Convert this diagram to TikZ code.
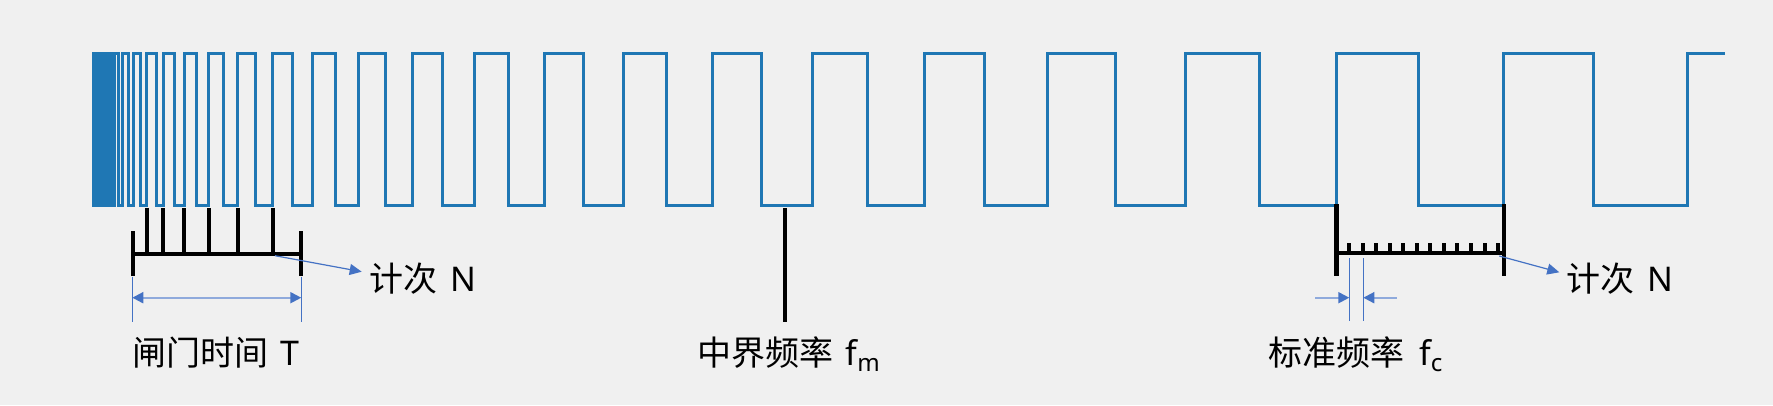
\documentclass[tikz,border=0pt]{standalone}
\usepackage{fontspec}
\setmainfont{Noto Sans CJK SC}
\newfontfamily\latf{Noto Sans}
\usetikzlibrary{arrows.meta}
\definecolor{bgc}{HTML}{F0F0F0}
\definecolor{wavec}{HTML}{1F77B4}
\definecolor{annc}{HTML}{4472C4}
\definecolor{annl}{RGB}{143,170,220}
\newcommand{\subtxt}[1]{\raisebox{-6.5pt}{\fontsize{24}{24}\selectfont #1}}
\begin{document}
\begin{tikzpicture}[x=1pt,y=-1pt,
  wave/.style={draw=wavec, line width=3pt},
  blk/.style={draw=black, line width=4.3pt},
  tickbar/.style={draw=black, line width=4pt},
  guide/.style={draw=annc, line width=1pt},
  dimline/.style={draw=annl, line width=2pt, -{Triangle[length=11pt,width=11pt,color=annc]}},
  dimboth/.style={draw=annl, line width=2pt, {Triangle[length=11pt,width=11pt,color=annc]}-{Triangle[length=11pt,width=11pt,color=annc]}},
  cntarrow/.style={draw=annc, line width=1.2pt, -{Triangle[length=12pt,width=11pt]}},
  lbl/.style={font=\fontsize{34}{40}\selectfont, inner sep=0pt, anchor=base west}]
\useasboundingbox (0,0) rectangle (1773,405);
\fill[bgc] (0,0) rectangle (1773,405);
% dense high-frequency block
\fill[wavec] (91.5,51.5) rectangle (113,206.5);
% chirped square wave
\draw[wave] (112,205) -| (114.3,53) -| (118.8,205) -| (122.7,53) -| (128.5,205)
 -| (133.3,53) -| (140,205) -| (146.7,53) -| (156.3,205) -| (163.3,53)
 -| (174.7,205) -| (184,53) -| (196.7,205) -| (208.7,53) -| (223.3,205)
 -| (237.7,53) -| (255,205) -| (272.7,53) -| (292,205) -| (312.3,53)
 -| (335.3,205) -| (358.7,53) -| (385.7,205) -| (412.7,53) -| (442.7,205)
 -| (474.5,53) -| (508.5,205) -| (544.1,53) -| (583.1,205) -| (623.4,53)
 -| (666.8,205) -| (712.3,53) -| (761.3,205) -| (812.1,53) -| (867.1,205)
 -| (924,53) -| (984.7,205) -| (1047.1,53) -| (1115.4,205) -| (1185,53)
 -| (1259.2,205) -| (1336.5,53) -| (1418.5,205) -| (1503.9,53) -| (1593.6,205)
 -| (1687.1,53) -- (1724.5,53);

% labels
\node[lbl] (cntL) at (369,291.5) {计次\hspace{13pt}{\latf N}};
\node[lbl] (cntR) at (1566.5,291) {计次\hspace{13pt}{\latf N}};
\node[lbl] (gate) at (132.5,365) {闸门时间\hspace{12pt}{\latf T}};
\node[lbl] (fmid) at (697.5,365) {中界频率\hspace{12pt}{\latf f\subtxt{m}}};
\node[lbl] (fstd) at (1268,365) {标准频率\hspace{15pt}{\latf f\subtxt{c}}};

% left gate bracket
\coordinate (gL) at (133.3,254);
\coordinate (gR) at (300.8,254);
\draw[blk] (133.3,231) -- (133.3,276);
\draw[blk] (300.8,231) -- (300.8,276);
\draw[blk] (gL) -- (gR);
\foreach \x in {146.7,163.3,184,208.7,237.7,272.7}
  \draw[tickbar] (\x,208) -- (\x,254);
% count arrow left
\coordinate (aL) at (275,255.7);
\coordinate (tL) at (361.7,271.7);
\draw[cntarrow] (aL) -- (tL);
% gate time dimension
\coordinate (dL1) at (132.3,276.7);
\coordinate (dL2) at (132.3,321.7);
\coordinate (dR1) at (301.3,276.7);
\coordinate (dR2) at (301.3,321.7);
\draw[guide] (dL1) -- (dL2);
\draw[guide] (dR1) -- (dR2);
\coordinate (gA) at (132.3,297.7);
\coordinate (gB) at (301.3,297.7);
\draw[dimboth] (gA) -- (gB);

% middle marker
\coordinate (m1) at (785.3,208);
\coordinate (m2) at (785.3,321.7);
\draw[blk] (m1) -- (m2);

% right bracket
\draw[blk] (1336.6,204) -- (1336.6,276);
\draw[blk] (1504.3,204) -- (1504.3,276);
\coordinate (rL) at (1336.6,253.3);
\coordinate (rR) at (1504.3,253.3);
\draw[blk] (rL) -- (rR);
\foreach \k in {0,...,11}
  \draw[tickbar] (1349.3+13.52*\k,243.3) -- (1349.3+13.52*\k,253.3);
% count arrow right
\coordinate (aR) at (1499.3,256);
\coordinate (tR) at (1559.3,272.3);
\draw[cntarrow] (aR) -- (tR);
% period dimension
\coordinate (pA1) at (1349.3,258.3);
\coordinate (pA2) at (1349.3,321);
\coordinate (pB1) at (1363.3,258.3);
\coordinate (pB2) at (1363.3,321);
\draw[guide] (pA1) -- (pA2);
\draw[guide] (pB1) -- (pB2);
\coordinate (pL0) at (1315,297.7);
\coordinate (pL1) at (1349.3,297.7);
\coordinate (pR0) at (1396.7,297.7);
\coordinate (pR1) at (1363.3,297.7);
\draw[dimline] (pL0) -- (pL1);
\draw[dimline] (pR0) -- (pR1);
\end{tikzpicture}
\end{document}
